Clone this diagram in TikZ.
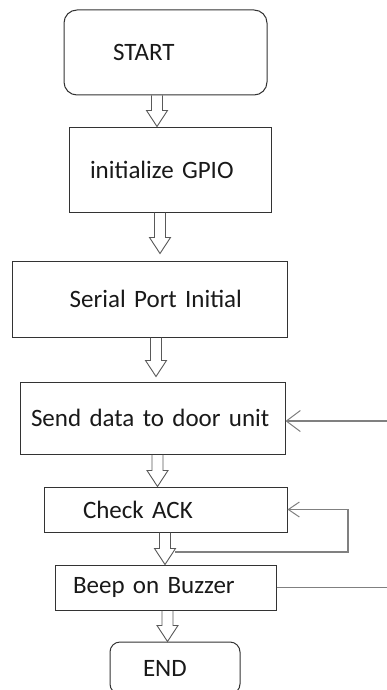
\documentclass[tikz,border=0pt]{standalone}
\usepackage{fontspec}
\setmainfont{Carlito}
\usetikzlibrary{calc,arrows.meta}

\tikzset{
    stepbox/.style={draw=black!80, line width=1pt, inner sep=0pt, align=left, text=black!90},
    hollow/.style={draw=black!65, line width=0.9pt, line join=miter},
    backline/.style={draw=black!50, line width=1.4pt},
}

% hollow block arrow: from node, to node, x of the shaft, gap above the target
\newcommand{\blockarrow}[4]{%
    \coordinate (bx) at (#3,0);
    \path (bx |- #1.south) coordinate (bt) (bx |- #2.north) coordinate (bh);
    \draw[hollow] ($(bt)+(-5.5,0)$) -- ($(bh)+(-5.5,-#4-16)$) -- ($(bh)+(-10.5,-#4-16)$)
        -- ($(bh)+(0,-#4)$) -- ($(bh)+(10.5,-#4-16)$) -- ($(bh)+(5.5,-#4-16)$) -- ($(bt)+(5.5,0)$);
}

\begin{document}
\begin{tikzpicture}[x=1pt, y=-1pt, font=\fontsize{25pt}{30pt}\selectfont]
    \path[use as bounding box, fill=white] (0,0) rectangle (386,690);

    \node[stepbox, rounded corners=13pt, minimum width=203pt, minimum height=85pt, text width=105pt] (start) at (165.5,52.5) {START};
    \node[stepbox, minimum width=202pt, minimum height=85pt, text width=160pt] (gpio) at (170,169.5) {initialize GPIO};
    \node[stepbox, minimum width=275pt, minimum height=76pt, text width=185pt, align=right] (serial) at (149.5,299) {Serial Port Initial};
    \node[stepbox, minimum width=265pt, minimum height=72pt, text width=243pt] (send) at (152.5,418) {Send data to door unit};
    \node[stepbox, minimum width=243pt, minimum height=45pt, text width=165pt] (check) at (165.5,509.5) {Check ACK};
    \node[stepbox, minimum width=221pt, minimum height=45pt, text width=185pt] (beep) at (165.5,587.5) {Beep on Buzzer};
    \node[stepbox, rounded corners=10pt, minimum width=130pt, minimum height=52pt, text width=64pt] (finish) at (175,668) {END};

    \blockarrow{start}{gpio}{157}{0}
    \blockarrow{gpio}{serial}{160}{7}
    \blockarrow{serial}{send}{156}{5}
    \blockarrow{send}{check}{157.5}{0}
    \blockarrow{check}{beep}{165}{0}
    \blockarrow{beep}{finish}{167.5}{0}

    \coordinate (sendin) at (390,421);
    \coordinate (ackout) at (175,552);
    \coordinate (ackloop) at (348,552);
    \coordinate (beepout) at (390,587.5);

    \draw[backline, -{Straight Barb[length=14pt, width=21pt, line width=1pt]}] (sendin) -- (sendin -| send.east);
    \draw[backline, -{Straight Barb[length=11pt, width=15pt, line width=1pt]}] (ackout) -- (ackloop) |- (check.east);
    \draw[backline] (beep.east) -- (beepout);
\end{tikzpicture}
\end{document}
